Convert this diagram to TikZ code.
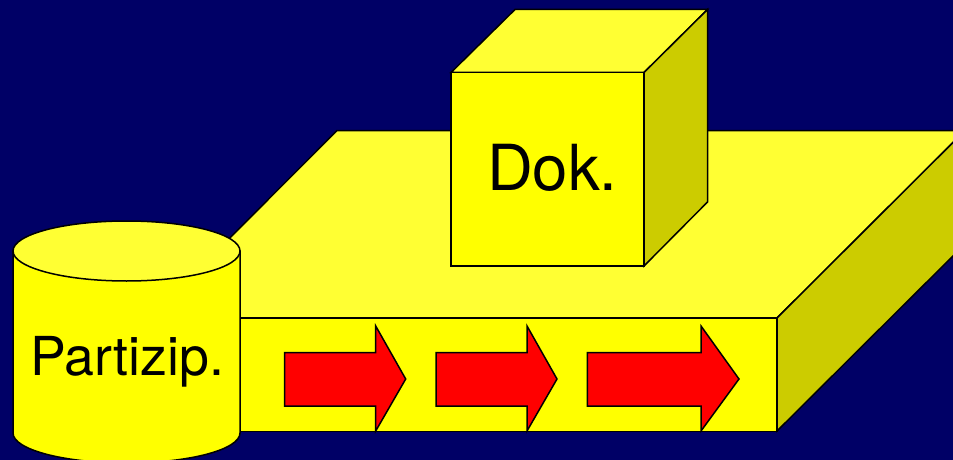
\documentclass[tikz,border=0pt]{standalone}
\usepackage{fontspec}
\setmainfont{TeX Gyre Heros}
\definecolor{bgnavy}{HTML}{000066}
\definecolor{faceyellow}{HTML}{FFFF00}
\definecolor{toplight}{HTML}{FFFF33}
\definecolor{sidedark}{HTML}{CCCC00}
\definecolor{arrowred}{HTML}{FF0000}
\tikzset{
  outline/.style={draw=black,line width=1.5pt,line join=miter},
  frontface/.style={outline,fill=faceyellow},
  topface/.style={outline,fill=toplight},
  sideface/.style={outline,fill=sidedark},
  redarrow/.style={outline,fill=arrowred},
  lbl/.style={inner sep=0pt,text=black}
}
\newcommand{\blockarrow}[3]{%
  \draw[redarrow] (#1,352.7) -- (#2,352.7) -- (#2,326) -- (#3,379) -- (#2,431) -- (#2,406) -- (#1,406) -- cycle;}
\begin{document}
\begin{tikzpicture}[x=1pt,y=-1pt]
\useasboundingbox (0,0) rectangle (953,460);
\clip (0,0) rectangle (953,460);
\fill[bgnavy] (0,0) rectangle (953,460);
% slab
\draw[topface] (150,318) -- (337,130.5) -- (965,130.5) -- (777,318) -- cycle;
\draw[sideface] (777,318) -- (965,130.5) -- (965,244) -- (777,431) -- cycle;
\draw[frontface] (150,318) rectangle (777,431.5);
% arrows
\blockarrow{284.5}{375.7}{405.7}
\blockarrow{436}{527}{557}
\blockarrow{587.3}{701}{739}
% cube
\draw[topface] (451,72.5) -- (515,9.5) -- (707.5,9.5) -- (644,72.5) -- cycle;
\draw[sideface] (644,72.5) -- (707.5,9.5) -- (707.5,202) -- (644,266) -- cycle;
\draw[frontface] (451,72.5) rectangle (644,266);
% cylinder
\draw[frontface] (13,251) -- (13,433) arc[start angle=180,end angle=360,x radius=113.5,y radius=-30] -- (240,251) -- cycle;
\draw[topface] (126.5,251) ellipse[x radius=113.5,y radius=30];
% labels
\node[lbl,font=\fontsize{63.5}{64}\selectfont,anchor=base] (dok) at (552.3,190.5) {Dok.};
\node[lbl,font=\fontsize{53.7}{54}\selectfont,anchor=base] (partizip) at (127.2,375) {Partizip.};
\end{tikzpicture}
\end{document}
